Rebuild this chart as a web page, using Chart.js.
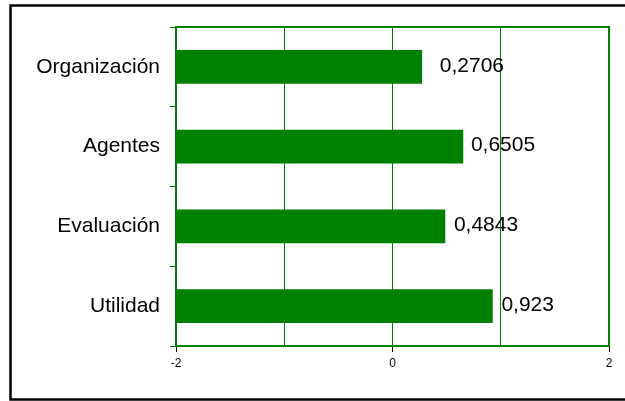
<!DOCTYPE html>
<html>
<head>
<meta charset="utf-8">
<script src="https://cdn.jsdelivr.net/npm/chart.js@4/dist/chart.umd.min.js"></script>
<style>
    html, body { margin: 0; padding: 0; background: #fff; }
    #wrap { width: 625px; height: 401px; position: relative; }
</style>
</head>
<body>
<div id="wrap"><canvas id="barChart"></canvas></div>
<script>
    const categories = ['Organización', 'Agentes', 'Evaluación', 'Utilidad'];
    const values = [0.2706, 0.6505, 0.4843, 0.923];
    const valueLabels = ['0,2706', '0,6505', '0,4843', '0,923'];
    const axisMin = -2, axisMax = 2;

    const green = '#008000';
    const fontFamily = '"Liberation Sans", Arial, sans-serif';

    // Black frame around the whole chart and green frame around plot area
    const framePlugin = {
        id: 'frames',
        beforeDraw(chart) {
            const ctx = chart.ctx;
            ctx.save();
            ctx.fillStyle = '#fff';
            ctx.fillRect(0, 0, chart.width, chart.height);
            ctx.strokeStyle = '#000';
            ctx.lineWidth = 2.5;
            ctx.strokeRect(10.5, 5.5, chart.width + 20, chart.height - 7);
            ctx.restore();
        },
        afterDraw(chart) {
            const a = chart.chartArea;
            const ctx = chart.ctx;
            ctx.save();
            ctx.strokeStyle = green;
            ctx.lineWidth = 2;
            ctx.strokeRect(a.left, a.top, a.right - a.left, a.bottom - a.top);
            ctx.restore();

            // value labels after each bar (first one sits a bit further out)
            const gaps = [18, 8, 9, 9];
            const xScale = chart.scales.x;
            const meta = chart.getDatasetMeta(0);
            ctx.save();
            ctx.fillStyle = '#000';
            ctx.font = '21px ' + fontFamily;
            ctx.textBaseline = 'middle';
            meta.data.forEach((bar, i) => {
                ctx.fillText(valueLabels[i], xScale.getPixelForValue(values[i]) + gaps[i], bar.y - 1);
            });
            ctx.restore();
        }
    };

    new Chart(document.getElementById('barChart'), {
        type: 'bar',
        data: {
            labels: categories,
            datasets: [{
                data: values.map(v => [axisMin, v]),
                backgroundColor: green,
                borderWidth: 0,
                barThickness: 33
            }]
        },
        options: {
            indexAxis: 'y',
            responsive: true,
            maintainAspectRatio: false,
            animation: false,
            layout: { padding: { top: 27, right: 16, left: 0, bottom: 0 } },
            plugins: {
                legend: { display: false },
                tooltip: { enabled: false }
            },
            scales: {
                x: {
                    min: axisMin,
                    max: axisMax,
                    ticks: {
                        stepSize: 1,
                        color: '#000',
                        font: { family: fontFamily, size: 12 },
                        padding: 4,
                        maxRotation: 0,
                        callback: v => (v % 2 === 0 ? String(v) : '')
                    },
                    grid: {
                        color: green,
                        lineWidth: 1,
                        tickLength: 6,
                        tickColor: ctx => (ctx.tick && ctx.tick.value % 2 === 0 ? '#000' : 'rgba(0,0,0,0)')
                    },
                    border: { display: false },
                    afterFit(scale) { scale.height = 55; }
                },
                y: {
                    ticks: {
                        color: '#000',
                        font: { family: fontFamily, size: 21 },
                        padding: 10
                    },
                    grid: {
                        offset: true,
                        drawOnChartArea: false,
                        tickLength: 6,
                        tickColor: green
                    },
                    border: { display: false },
                    afterFit(scale) { scale.width = 176; }
                }
            }
        },
        plugins: [framePlugin]
    });
</script>
</body>
</html>
